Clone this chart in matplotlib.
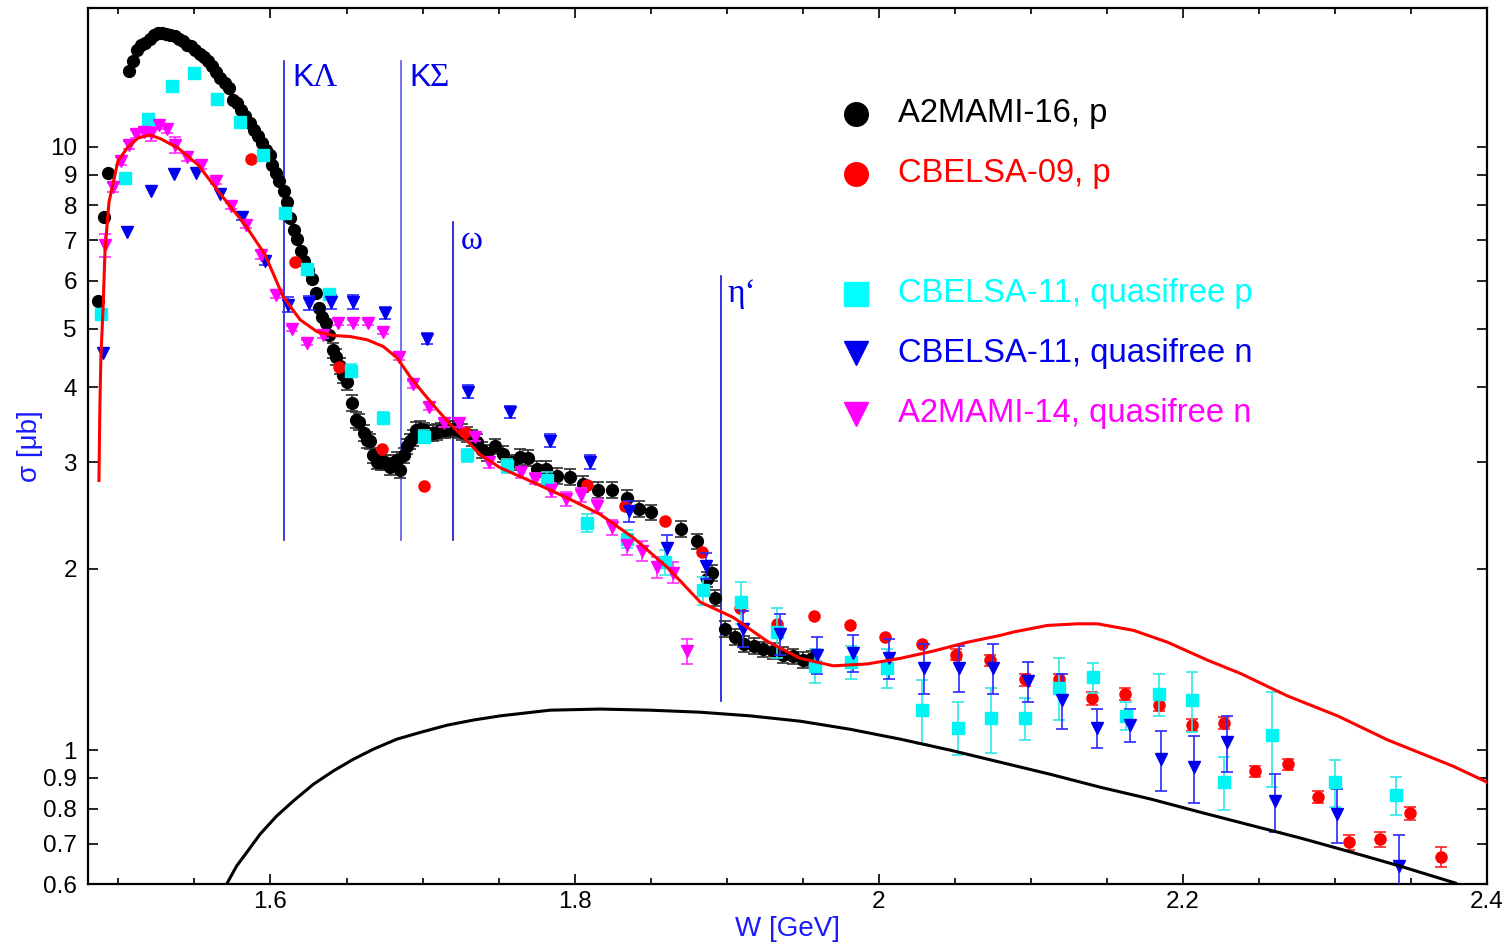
"""
plot.py
-------
eta photoproduction total cross section vs W, log scale, with model curves.
Output: out.png
"""

import numpy as np
import matplotlib
matplotlib.use("Agg")
import matplotlib.pyplot as plt
from matplotlib.ticker import FixedLocator, MultipleLocator, FuncFormatter, NullLocator

plt.rcParams["font.family"] = ["Liberation Sans", "DejaVu Sans"]
SERIF = ["Liberation Serif", "DejaVu Serif"]

# A2MAMI-16, p  (W [GeV], sigma [mub])
a2_16_w = [1.4866, 1.4905, 1.4932, 1.5070, 1.5096, 1.5122, 1.5149, 1.5175, 1.5208, 1.5234,
           1.5261, 1.5287, 1.5313, 1.5339, 1.5372, 1.5399, 1.5425, 1.5451, 1.5478, 1.5504,
           1.5537, 1.5563, 1.5589, 1.5616, 1.5642, 1.5668, 1.5701, 1.5728, 1.5754, 1.5780,
           1.5807, 1.5833, 1.5866, 1.5892, 1.5918, 1.5945, 1.5971, 1.5997, 1.6011, 1.6037,
           1.6057, 1.6089, 1.6109, 1.6129, 1.6155, 1.6175, 1.6201, 1.6221, 1.6247, 1.6274,
           1.6300, 1.6320, 1.6340, 1.6366, 1.6386, 1.6412, 1.6432, 1.6458, 1.6478, 1.6504,
           1.6537, 1.6563, 1.6583, 1.6616, 1.6636, 1.6655, 1.6675, 1.6701, 1.6728, 1.6754,
           1.6787, 1.6813, 1.6833, 1.6853, 1.6879, 1.6899, 1.6918, 1.6938, 1.6958, 1.6984,
           1.7011, 1.7037, 1.7070, 1.7096, 1.7122, 1.7149, 1.7175, 1.7201, 1.7234, 1.7261,
           1.7293, 1.7326, 1.7359, 1.7392, 1.7425, 1.7478, 1.7530, 1.7589, 1.7642, 1.7695,
           1.7754, 1.7813, 1.7886, 1.7971, 1.8057, 1.8155, 1.8247, 1.8346, 1.8425, 1.8504,
           1.8701, 1.8807, 1.8872, 1.8905, 1.8925, 1.8991, 1.9057, 1.9116, 1.9182, 1.9241,
           1.9307, 1.9372, 1.9438, 1.9504, 1.9563]
a2_16_s = [5.56, 7.66, 9.06, 13.36, 13.88, 14.47, 14.75, 14.87, 15.10, 15.33,
           15.45, 15.45, 15.39, 15.33, 15.27, 15.10, 14.98, 14.75, 14.70, 14.47,
           14.26, 14.09, 13.88, 13.62, 13.31, 13.01, 12.76, 12.52, 11.96, 11.83,
           11.51, 11.25, 10.96, 10.67, 10.43, 10.15, 9.89, 9.70, 9.34, 9.06,
           8.78, 8.46, 8.11, 7.63, 7.29, 7.04, 6.73, 6.48, 6.26, 6.05,
           5.73, 5.41, 5.23, 5.11, 4.88, 4.60, 4.49, 4.34, 4.19, 4.08,
           3.77, 3.53, 3.50, 3.36, 3.27, 3.25, 3.08, 3.01, 3.00, 3.00,
           2.95, 3.00, 3.03, 2.91, 3.08, 3.19, 3.25, 3.29, 3.40, 3.41,
           3.39, 3.36, 3.36, 3.37, 3.39, 3.40, 3.41, 3.41, 3.39, 3.37,
           3.34, 3.29, 3.24, 3.15, 3.11, 3.19, 3.10, 3.00, 3.06, 3.05,
           2.93, 2.93, 2.85, 2.84, 2.76, 2.70, 2.70, 2.62, 2.51, 2.48,
           2.33, 2.22, 1.92, 1.97, 1.79, 1.59, 1.54, 1.50, 1.49, 1.47,
           1.46, 1.44, 1.43, 1.41, 1.42]
a2_16_relerr = 0.03      # size of the small bars above W = 1.64
a2_16_err_from = 1.64

# CBELSA-09, p
cb09_w = [1.5872, 1.6162, 1.6451, 1.6734, 1.7011, 1.7280, 1.8083, 1.8333, 1.8596, 1.8840,
          1.9090, 1.9333, 1.9576, 1.9813, 2.0043, 2.0287, 2.0510, 2.0734, 2.0964, 2.1188,
          2.1405, 2.1622, 2.1846, 2.2057, 2.2267, 2.2471, 2.2688, 2.2886, 2.3089, 2.3293,
          2.3491, 2.3695]
cb09_s = [9.55, 6.45, 4.31, 3.16, 2.74, 3.37, 2.75, 2.54, 2.40, 2.13,
          1.72, 1.62, 1.67, 1.61, 1.54, 1.50, 1.44, 1.41, 1.31, 1.31,
          1.22, 1.24, 1.19, 1.10, 1.11, 0.923, 0.948, 0.836, 0.704, 0.712,
          0.786, 0.665]
cb09_e = [0, 0, 0, 0, 0, 0, 0, 0, 0, 0,
          0, 0, 0, 0, 0, 0, 0.03, 0.03, 0.03, 0.03,
          0.03, 0.03, 0.03, 0.025, 0.025, 0.02, 0.02, 0.02, 0.02, 0.02,
          0.02, 0.025]

# CBELSA-11, quasifree p
cb11p_w = [1.4886, 1.5043, 1.5195, 1.5353, 1.5497, 1.5649, 1.5800, 1.5951, 1.6096, 1.6241,
           1.6386, 1.6530, 1.6741, 1.7011, 1.7293, 1.7557, 1.7820, 1.8083, 1.8346, 1.8596,
           1.8846, 1.9096, 1.9333, 1.9583, 1.9820, 2.0057, 2.0287, 2.0524, 2.0740, 2.0964,
           2.1188, 2.1412, 2.1629, 2.1846, 2.2057, 2.2267, 2.2589, 2.2997, 2.3399]
cb11p_s = [5.29, 8.89, 11.13, 12.62, 13.26, 12.01, 11.0, 9.70, 7.78, 6.28,
           5.71, 4.26, 3.55, 3.31, 3.08, 2.96, 2.81, 2.38, 2.24, 2.05,
           1.84, 1.76, 1.57, 1.38, 1.40, 1.37, 1.165, 1.09, 1.13, 1.13,
           1.27, 1.32, 1.14, 1.24, 1.21, 0.885, 1.06, 0.885, 0.842]
cb11p_e = [0, 0, 0, 0, 0, 0, 0, 0, 0, 0,
           0.1, 0.1, 0.08, 0.08, 0.08, 0.08, 0.08, 0.08, 0.08, 0.1,
           0.1, 0.14, 0.15, 0.09, 0.09, 0.1, 0.14, 0.11, 0.14, 0.09,
           0.15, 0.075, 0.06, 0.1, 0.14, 0.09, 0.19, 0.08, 0.06]

# CBELSA-11, quasifree n
cb11n_w = [1.4899, 1.5057, 1.5214, 1.5366, 1.5511, 1.5668, 1.5813, 1.5964, 1.6116, 1.6254,
           1.6399, 1.6543, 1.6754, 1.7030, 1.7300, 1.7576, 1.7839, 1.8103, 1.8359, 1.8609,
           1.8866, 1.9109, 1.9353, 1.9596, 1.9833, 2.0070, 2.0300, 2.0530, 2.0754, 2.0984,
           2.1208, 2.1432, 2.1649, 2.1859, 2.2076, 2.2287, 2.2603, 2.3011, 2.3418]
cb11n_s = [4.56, 7.23, 8.46, 9.02, 9.06, 8.36, 7.66, 6.48, 5.48, 5.52,
           5.54, 5.54, 5.31, 4.81, 3.93, 3.64, 3.26, 3.00, 2.49, 2.16,
           2.02, 1.59, 1.56, 1.44, 1.45, 1.42, 1.37, 1.37, 1.37, 1.30,
           1.21, 1.09, 1.10, 0.966, 0.937, 1.03, 0.823, 0.783, 0.643]
cb11n_e = [0, 0, 0, 0, 0, 0, 0.1, 0.1, 0.15, 0.15,
           0.15, 0.15, 0.12, 0.1, 0.1, 0.08, 0.08, 0.08, 0.1, 0.11,
           0.1, 0.11, 0.12, 0.1, 0.1, 0.11, 0.13, 0.12, 0.13, 0.1,
           0.125, 0.08, 0.07, 0.11, 0.12, 0.11, 0.09, 0.08, 0.08]

# A2MAMI-14, quasifree n
a2_14_w = [1.4912, 1.4964, 1.5017, 1.5070, 1.5116, 1.5168, 1.5214, 1.5267, 1.5320, 1.5372,
           1.5451, 1.5543, 1.5642, 1.5741, 1.5839, 1.5938, 1.6037, 1.6142, 1.6241, 1.6346,
           1.6445, 1.6543, 1.6642, 1.6741, 1.6846, 1.6938, 1.7043, 1.7142, 1.7241, 1.7346,
           1.7438, 1.7649, 1.7741, 1.7846, 1.7945, 1.8043, 1.8149, 1.8247, 1.8346, 1.8445,
           1.8543, 1.8649, 1.8741]
a2_14_s = [6.88, 8.58, 9.48, 10.08, 10.51, 10.59, 10.55, 10.88, 10.71, 10.08,
           9.63, 9.34, 8.78, 7.99, 7.43, 6.63, 5.69, 5.00, 4.74, 4.88,
           5.11, 5.11, 5.11, 4.94, 4.49, 4.04, 3.71, 3.49, 3.49, 3.31,
           3.00, 2.89, 2.82, 2.70, 2.61, 2.65, 2.54, 2.34, 2.19, 2.14,
           2.01, 1.97, 1.46]
a2_14_e = [0.30, 0.15, 0.15, 0.15, 0.15, 0.15, 0.30, 0.15, 0.15, 0.30,
           0.15, 0.15, 0.10, 0.10, 0.10, 0.10, 0.08, 0.05, 0.05, 0.05,
           0.05, 0.05, 0.05, 0.05, 0.05, 0.05, 0.05, 0.05, 0.05, 0.05,
           0.06, 0.06, 0.06, 0.07, 0.07, 0.07, 0.07, 0.07, 0.08, 0.08,
           0.08, 0.08, 0.07]

# model curves
red_w = [1.4872, 1.4878, 1.4885, 1.4899, 1.4912, 1.4938, 1.4997, 1.5063, 1.5129, 1.5208,
         1.5280, 1.5392, 1.5524, 1.5675, 1.5833, 1.5964, 1.6083, 1.6195, 1.6307, 1.6412,
         1.6524, 1.6636, 1.6741, 1.6833, 1.6918, 1.7004, 1.7096, 1.7182, 1.7267, 1.7379,
         1.7510, 1.7728, 1.7951, 1.8168, 1.8386, 1.8609, 1.8826, 1.9043, 1.9267, 1.9484,
         1.9701, 1.9925, 2.0142, 2.0359, 2.0583, 2.0800, 2.0886, 2.1109, 2.1307, 2.1438,
         2.1675, 2.1899, 2.2162, 2.2379, 2.2688, 2.3017, 2.3346, 2.3780, 2.4000]
red_s = [2.80, 3.70, 4.50, 5.40, 6.75, 8.10, 9.48, 10.0, 10.35, 10.47,
         10.31, 9.96, 9.34, 8.33, 7.43, 6.63, 5.65, 5.17, 4.94, 4.87,
         4.85, 4.79, 4.67, 4.47, 4.16, 3.91, 3.67, 3.47, 3.31, 3.09,
         2.94, 2.78, 2.62, 2.46, 2.25, 2.01, 1.76, 1.66, 1.515, 1.42,
         1.38, 1.39, 1.42, 1.46, 1.51, 1.55, 1.57, 1.61, 1.62, 1.62,
         1.58, 1.51, 1.41, 1.34, 1.23, 1.14, 1.04, 0.94, 0.885]

black_w = [1.5712, 1.5778, 1.5844, 1.5932, 1.6041, 1.6151, 1.6282, 1.6414, 1.6545, 1.6677,
           1.6831, 1.6984, 1.7160, 1.7335, 1.7511, 1.7839, 1.8168, 1.8497, 1.8826, 1.9155,
           1.9484, 1.9813, 2.0142, 2.0471, 2.0800, 2.1129, 2.1458, 2.1787, 2.2116, 2.2445,
           2.2774, 2.3103, 2.3432, 2.3793]
black_s = [0.600, 0.643, 0.677, 0.726, 0.778, 0.824, 0.878, 0.924, 0.966, 1.004,
           1.043, 1.070, 1.100, 1.122, 1.140, 1.165, 1.170, 1.165, 1.156, 1.140,
           1.117, 1.083, 1.043, 1.000, 0.955, 0.912, 0.868, 0.830, 0.789, 0.751,
           0.715, 0.678, 0.642, 0.602]

# thresholds: W, top and bottom of the line
thr_w = [1.609, 1.686, 1.720, 1.896]
thr_top = [13.9, 13.9, 7.5, 6.1]
thr_bot = [2.23, 2.23, 2.23, 1.205]
thr_col = ["#1a1adf", "#5a5af0", "#1010c0", "#1010e0"]

x_ticks = [1.6, 1.8, 2.0, 2.2, 2.4]
y_ticks = [0.6, 0.7, 0.8, 0.9, 1, 2, 3, 4, 5, 6, 7, 8, 9, 10]


def split_err(w, s, e):
    w, s, e = np.asarray(w), np.asarray(s), np.asarray(e)
    m = e > 0
    return w[m], s[m], e[m]


fig = plt.figure(figsize=(15.12, 9.48), dpi=100)
ax = fig.add_axes([0.0582, 0.0675, 0.9253, 0.9241])
ax.set_yscale("log")
ax.set_xlim(1.48, 2.4)
ax.set_ylim(0.6, 17.0)

# threshold lines and labels
for w, top, bot, col in zip(thr_w, thr_top, thr_bot, thr_col):
    ax.plot([w, w], [bot, top], color=col, lw=1.2, zorder=1)
lab_col = "#0000e8"
ax.text(1.6142, 13.0, "K", color=lab_col, fontsize=23, va="center")
ax.text(1.6274, 13.0, "\u039b", color=lab_col, fontsize=24, va="center", family=SERIF)
ax.text(1.6912, 13.0, "K", color=lab_col, fontsize=23, va="center")
ax.text(1.7046, 13.0, "\u03a3", color=lab_col, fontsize=24, va="center", family=SERIF)
ax.text(1.7254, 7.0, "\u03c9", color=lab_col, fontsize=24, va="center", family=SERIF)
ax.text(1.9004, 5.7, "\u03b7\u2018", color=lab_col, fontsize=24, va="center", family=SERIF)

# A2MAMI-16
w16 = np.asarray(a2_16_w)
s16 = np.asarray(a2_16_s)
m = w16 >= a2_16_err_from
ax.errorbar(w16[m], s16[m], yerr=a2_16_relerr * s16[m], fmt="none", ecolor="#303030",
            elinewidth=1.2, capsize=4, capthick=1.2, zorder=2)
ax.plot(w16, s16, "o", color="black", ms=8.5, zorder=3)

# CBELSA-09
ew, es, ee = split_err(cb09_w, cb09_s, cb09_e)
ax.errorbar(ew, es, yerr=ee, fmt="none", ecolor="#ff2020", elinewidth=1.2,
            capsize=4, capthick=1.2, zorder=3)
ax.plot(cb09_w, cb09_s, "o", color="#ff0000", ms=8, zorder=4)

# CBELSA-11 quasifree p
ew, es, ee = split_err(cb11p_w, cb11p_s, cb11p_e)
ax.errorbar(ew, es, yerr=ee, fmt="none", ecolor="#30e8e8", elinewidth=1.2,
            capsize=4, capthick=1.2, zorder=4)
ax.plot(cb11p_w, cb11p_s, "s", color="#00f4f4", ms=8, zorder=5)

# CBELSA-11 quasifree n
ew, es, ee = split_err(cb11n_w, cb11n_s, cb11n_e)
ax.errorbar(ew, es, yerr=ee, fmt="none", ecolor="#2a2aff", elinewidth=1.2,
            capsize=4, capthick=1.2, zorder=4)
ax.plot(cb11n_w, cb11n_s, "v", color="#0000ee", ms=8.5, zorder=5)

# A2MAMI-14 quasifree n
ew, es, ee = split_err(a2_14_w, a2_14_s, a2_14_e)
ax.errorbar(ew, es, yerr=ee, fmt="none", ecolor="#ff30ff", elinewidth=1.2,
            capsize=4, capthick=1.2, zorder=4)
ax.plot(a2_14_w, a2_14_s, "v", color="#ff00ff", ms=8.5, zorder=5)

# curves
ax.plot(red_w, red_s, color="#ff0000", lw=2.2, zorder=6, solid_joinstyle="round")
ax.plot(black_w, black_s, color="black", lw=2.2, zorder=6, solid_joinstyle="round")

# legend (drawn by hand, with a blank row between p and n data)
leg = [("o", "black", "A2MAMI-16, p", 0.879),
       ("o", "#ff0000", "CBELSA-09, p", 0.811),
       ("s", "#00ffff", "CBELSA-11, quasifree p", 0.674),
       ("v", "#0000ee", "CBELSA-11, quasifree n", 0.606),
       ("v", "#ff00ff", "A2MAMI-14, quasifree n", 0.537)]
for mk, col, txt, yy in leg:
    ax.plot([0.549], [yy], mk, color=col, ms=17, transform=ax.transAxes, clip_on=False, zorder=7)
    ax.text(0.579, yy, txt, color=col, fontsize=23.6, va="center", transform=ax.transAxes)

# axes styling
ax.yaxis.set_major_locator(FixedLocator(y_ticks))
ax.yaxis.set_minor_locator(NullLocator())
ax.yaxis.set_major_formatter(FuncFormatter(lambda v, p: f"{v:g}"))
ax.xaxis.set_major_locator(FixedLocator(x_ticks))
ax.xaxis.set_minor_locator(MultipleLocator(0.05))
ax.xaxis.set_major_formatter(FuncFormatter(lambda v, p: f"{v:g}"))
ax.tick_params(which="both", direction="in", top=True, right=True, labelsize=17.5,
               width=1.2)
ax.tick_params(axis="x", pad=5)
ax.tick_params(axis="y", pad=8)
ax.tick_params(which="major", length=7)
ax.tick_params(which="minor", length=4)
for sp in ax.spines.values():
    sp.set_linewidth(1.6)

ax.set_xlabel("W [GeV]", color="#1a1aff", fontsize=20, labelpad=2)
ax.set_ylabel("\u03c3 [\u03bcb]", color="#1a1aff", fontsize=20, labelpad=0)

fig.savefig("out.png", dpi=100)
